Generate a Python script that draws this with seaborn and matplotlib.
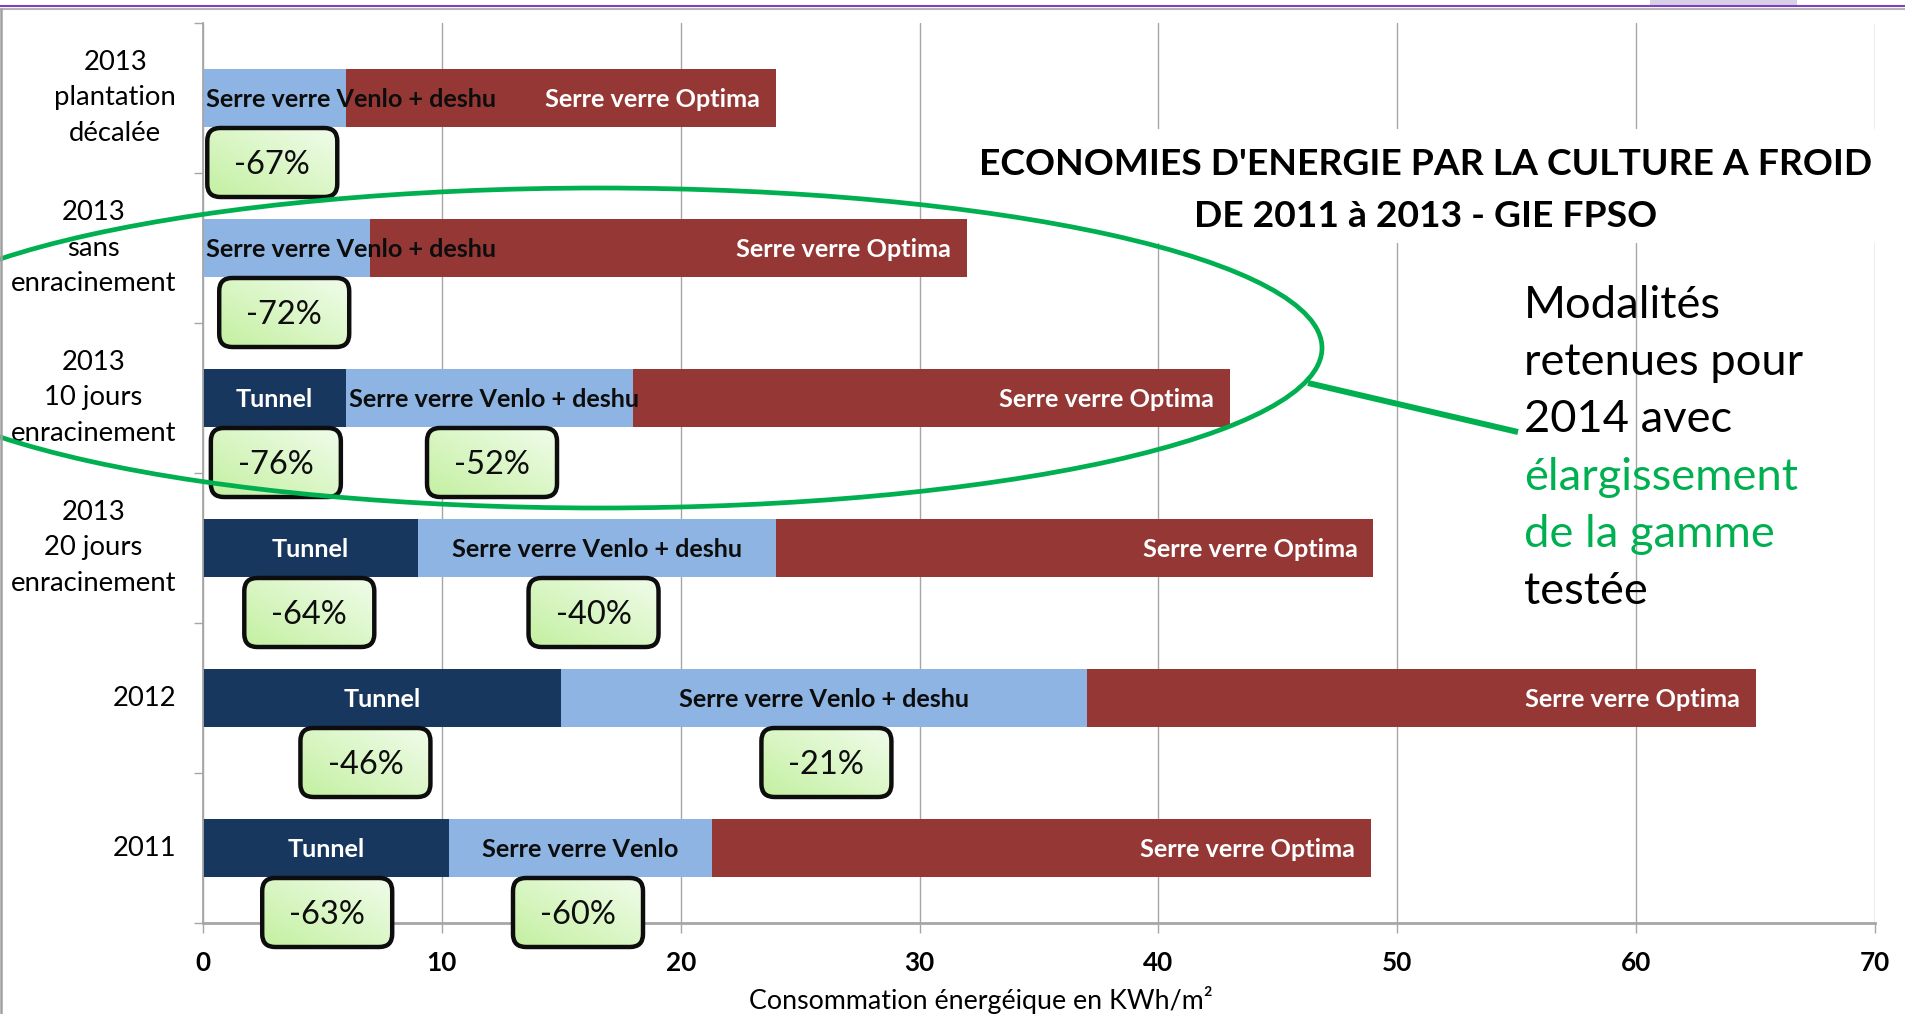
import numpy as np
import pandas as pd
import matplotlib
matplotlib.use("Agg")
import matplotlib.pyplot as plt
import matplotlib.patches as mpatches
import matplotlib.transforms as mtransforms
from matplotlib.lines import Line2D
from matplotlib.textpath import TextPath
from matplotlib.font_manager import FontProperties
import seaborn as sns

# ---------------- data ----------------
categories = ["2013\nplantation\ndécalée", "2013\nsans\nenracinement",
              "2013\n10 jours\nenracinement", "2013\n20 jours\nenracinement",
              "2012", "2011"]
tunnel = [np.nan, np.nan, 6.0, 9.0, 15.0, 10.3]
venlo = [6.0, 7.0, 18.0, 24.0, 37.0, 21.3]
optima = [24.0, 32.0, 43.0, 49.0, 65.0, 48.9]
tunnel_label = "Tunnel"
venlo_labels = ["Serre verre Venlo + deshu"] * 5 + ["Serre verre Venlo"]
optima_label = "Serre verre Optima"
saving_a = ["-67%", "-72%", "-76%", "-64%", "-46%", "-63%"]
saving_a_at = [2.9, 3.4, 3.05, 4.45, 6.8, 5.2]
saving_b = [None, None, "-52%", "-40%", "-21%", "-60%"]
saving_b_at = [None, None, 12.1, 16.35, 26.1, 15.7]
x_ticks = [0, 10, 20, 30, 40, 50, 60, 70]
x_label = "Consommation énergéique en KWh/m²"
title_lines = ["ECONOMIES D'ENERGIE PAR LA CULTURE A FROID", "DE 2011 à 2013 - GIE FPSO"]
note_lines = ["Modalités", "retenues pour", "2014 avec", "élargissement", "de la gamme", "testée"]
note_highlight = [False, False, False, True, True, False]

# ---------------- style ----------------
W, H, DPI = 1905, 1014, 100
C_TUN, C_VEN, C_OPT = "#17375e", "#8db4e2", "#953735"
C_GRID = "#a6a6a6"
C_GREEN = "#00b050"
FONT = "Lato"

sns.set_theme(style="white")
plt.rcParams["font.family"] = [FONT, "DejaVu Sans"]


def fit(txt, px, weight="normal"):
    fp = FontProperties(family=FONT, weight=weight, size=100)
    w = TextPath((0, 0), txt, prop=fp).get_extents().width
    return 100 * px * 72 / (w * DPI)


def width_px(txt, size, weight="normal"):
    fp = FontProperties(family=FONT, weight=weight, size=size)
    return TextPath((0, 0), txt, prop=fp).get_extents().width * DPI / 72


def cap_px(size, weight="normal", ch="H"):
    fp = FontProperties(family=FONT, weight=weight, size=size)
    return TextPath((0, 0), ch, prop=fp).get_extents().height * DPI / 72


S_BAR = fit("Serre verre Venlo + deshu", 290, "bold")
S_YLAB = fit("enracinement", 164)
S_XT = fit("10", 28, "bold")
S_BOX = fit("-67%", 68) * 1.07
S_TITLE = fit(title_lines[0], 889, "bold")
S_NOTE = fit("retenues pour", 275)
S_XLAB = fit(x_label, 460)

fig = plt.figure(figsize=(W / DPI, H / DPI), dpi=DPI)
fig.patch.set_facecolor("white")
ax = fig.add_axes([203 / W, 1 - 923 / H, 1672 / W, 900 / H])
ax.set_facecolor("white")

df = pd.DataFrame({"cat": categories, "tunnel": tunnel, "venlo": venlo, "optima": optima})
BW = 0.387
common = dict(y="cat", order=categories, saturation=1, width=BW, errorbar=None,
              ax=ax, orient="h", linewidth=0)
sns.barplot(data=df, x="optima", color=C_OPT, **common)
sns.barplot(data=df, x="venlo", color=C_VEN, **common)
sns.barplot(data=df.dropna(subset=["tunnel"]), x="tunnel", color=C_TUN, **common)

ax.set_xlim(0, 70)
ax.set_ylim(5.5, -0.5)
ax.set_xticks(x_ticks)
ax.set_xticklabels([str(t) for t in x_ticks])
ax.grid(axis="x", color=C_GRID, lw=1.0)
ax.grid(axis="y", visible=False)
ax.set_axisbelow(True)
for s in ["top", "right"]:
    ax.spines[s].set_visible(False)
ax.spines["left"].set_color(C_GRID)
ax.spines["left"].set_linewidth(1.3)
ax.spines["bottom"].set_color(C_GRID)
ax.spines["bottom"].set_linewidth(2.0)

ax.tick_params(axis="x", which="major", bottom=True, length=7, width=1, color=C_GRID,
               pad=13, labelsize=S_XT, labelcolor="black", direction="out")
for lab in ax.get_xticklabels():
    lab.set_fontweight("bold")
ax.tick_params(axis="y", which="major", left=False, length=0, pad=19.4,
               labelsize=S_YLAB, labelcolor="black")
ax.set_yticks(np.arange(-0.5, 6, 1), minor=True)
ax.tick_params(axis="y", which="minor", left=True, length=6.5, width=1, color=C_GRID,
               direction="out")
lp = S_YLAB * DPI / 72
for lab in ax.get_yticklabels():
    lab.set_multialignment("center")
    lab.set_verticalalignment("center")
    lab.set_linespacing(36 / (lp * 1.17) * 1.37)
ax.set_ylabel("")
ax.set_xlabel(x_label, fontsize=S_XLAB, color="black", va="center")
ax.xaxis.set_label_coords((981 - 203) / 1672, (923 - 1000) / 900)


def off(dx=0, dy=0):
    return mtransforms.offset_copy(ax.transData, fig=fig, x=dx, y=dy, units="dots")


# bar labels
cap_bar = cap_px(S_BAR, "bold")
for i in range(len(categories)):
    t, v, o = tunnel[i], venlo[i], optima[i]
    start = 0.0
    if not np.isnan(t):
        ax.text(t / 2, i, tunnel_label, transform=off(0, -cap_bar / 2), ha="center",
                va="baseline", color="white", fontsize=S_BAR, fontweight="bold", zorder=5)
        start = t
    seg_px = (v - start) * 1672 / 70
    if width_px(venlo_labels[i], S_BAR, "bold") + 6 < seg_px:
        ax.text((start + v) / 2, i, venlo_labels[i], transform=off(0, -cap_bar / 2),
                ha="center", va="baseline", color="#0d0d0d", fontsize=S_BAR,
                fontweight="bold", zorder=5)
    else:
        ax.text(start, i, venlo_labels[i], transform=off(3, -cap_bar / 2),
                ha="left", va="baseline", color="#0d0d0d", fontsize=S_BAR,
                fontweight="bold", zorder=5)
    ax.text(o, i, optima_label, transform=off(-16, -cap_bar / 2), ha="right",
            va="baseline", color="white", fontsize=S_BAR, fontweight="bold", zorder=5)

ax.set_xlim(0, 70)
ax.set_ylim(5.5, -0.5)

# saving boxes drawn on a transparent overlay in pixel units
ov = fig.add_axes([0, 0, 1, 1], zorder=ax.get_zorder() + 0.5)
ov.set_xlim(0, W)
ov.set_ylim(0, H)
ov.axis("off")
ov.patch.set_visible(False)

BOX_W, BOX_H, BOX_R = 130, 69, 13
DY = 0.43
yy, xx = np.mgrid[0:1:48j, 0:1:48j]
tt = (xx + (1 - yy)) / 2
dark = np.array([0.76, 0.94, 0.62])
light = np.array([0.95, 0.99, 0.93])
grad = dark[None, None, :] * (1 - tt[..., None]) + light[None, None, :] * tt[..., None]
cap_box = cap_px(S_BOX, "normal", "0")


def saving_box(xc, row, txt):
    px, py = ax.transData.transform((xc, row + DY))
    patch = mpatches.FancyBboxPatch((px - BOX_W / 2, py - BOX_H / 2), BOX_W, BOX_H,
                                    boxstyle=f"round,pad=0,rounding_size={BOX_R}",
                                    facecolor="none", edgecolor="#0d0d0d", lw=3.2,
                                    zorder=7)
    ov.add_patch(patch)
    im = ov.imshow(grad, extent=(px - BOX_W / 2 - 3, px + BOX_W / 2 + 3,
                                 py - BOX_H / 2 - 3, py + BOX_H / 2 + 3),
                   aspect="auto", origin="upper", interpolation="bilinear", zorder=6)
    im.set_clip_path(patch)
    ov.text(px, py - cap_box / 2, txt, ha="center", va="baseline",
            fontsize=S_BOX, color="#0d0d0d", zorder=8)


for i in range(len(categories)):
    if saving_a[i] is not None:
        saving_box(saving_a_at[i], i, saving_a[i])
    if saving_b[i] is not None:
        saving_box(saving_b_at[i], i, saving_b[i])
ov.set_xlim(0, W)
ov.set_ylim(0, H)

# title with white background
ax.add_patch(mpatches.Rectangle((975 / W, 1 - 243 / H), (1880 - 975) / W, (243 - 129) / H,
                                transform=fig.transFigure, facecolor="white",
                                edgecolor="none", zorder=0.8, clip_on=False))
for k, line in enumerate(title_lines):
    fig.text(1426 / W, 1 - (175 + 52 * k) / H, line, ha="center", va="baseline",
             fontsize=S_TITLE, fontweight="bold", color="black")

# side note
for k, line in enumerate(note_lines):
    fig.text(1524 / W, 1 - (318 + 57.2 * k) / H, line, ha="left", va="baseline",
             fontsize=S_NOTE, color=C_GREEN if note_highlight[k] else "black")

# green ellipse and connector
fig.add_artist(mpatches.Ellipse((600 / W, 1 - 348 / H), 1444 / W, 320 / H,
                                transform=fig.transFigure, facecolor="none",
                                edgecolor=C_GREEN, lw=3.4, zorder=10))
fig.add_artist(Line2D([1308 / W, 1518 / W], [1 - 383 / H, 1 - 432 / H],
                      transform=fig.transFigure, color=C_GREEN, lw=4.3,
                      solid_capstyle="butt", zorder=10))

# slide frame
fig.add_artist(mpatches.Rectangle((1650 / W, 1 - 6 / H), 147 / W, 6 / H,
                                  transform=fig.transFigure, facecolor="#d8d0e6",
                                  edgecolor="none", zorder=9))
fig.add_artist(Line2D([0, 1], [1 - 6 / H, 1 - 6 / H], transform=fig.transFigure,
                      color="#7e3fc0", lw=1.5, zorder=10))
fig.add_artist(Line2D([0, 1], [1 - 8.5 / H, 1 - 8.5 / H], transform=fig.transFigure,
                      color="#b4b4b4", lw=1.5, zorder=10))
fig.add_artist(Line2D([1.2 / W, 1.2 / W], [0, 1 - 8.5 / H], transform=fig.transFigure,
                      color="#a0a0a0", lw=1.8, zorder=10))

fig.savefig("out.png", dpi=DPI, facecolor="white")
